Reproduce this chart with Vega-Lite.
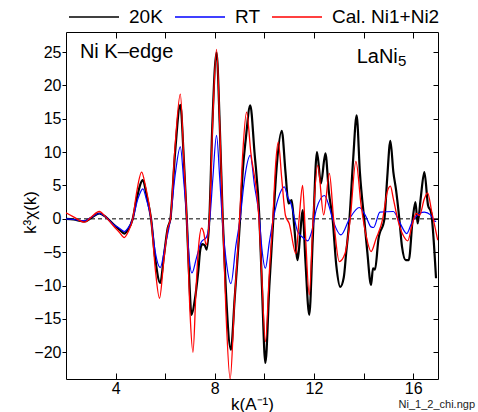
{
"$schema": "https://vega.github.io/schema/vega-lite/v6.json",
"width": 372, "height": 347,
"autosize": "none",
"padding": {"left": 66, "top": 32, "right": 40, "bottom": 33},
"background": "white",
"title": {"text": "Ni_1_2_chi.ngp", "orient": "bottom", "anchor": "end", "fontSize": 11, "fontWeight": "normal", "font": "Liberation Sans", "color": "#222", "dx": 35, "offset": -13},
"config": {"font": "Liberation Sans", "view": {"stroke": "black", "strokeWidth": 1},
  "axis": {"grid": false, "domain": false, "tickColor": "black", "labelColor": "black", "titleColor": "black", "labelFont": "Liberation Sans", "titleFont": "Liberation Sans", "titleFontWeight": "normal"}},
"datasets": {"chi": [
{"s":"20K","k":2.0,"v":0.0},{"s":"20K","k":2.3,"v":-0.1},{"s":"20K","k":2.74,"v":-0.4},{"s":"20K","k":3.0,"v":0.1},{"s":"20K","k":3.34,"v":0.8},{"s":"20K","k":3.6,"v":0.3},{"s":"20K","k":3.9,"v":-0.8},{"s":"20K","k":4.15,"v":-1.6},{"s":"20K","k":4.35,"v":-2.2},{"s":"20K","k":4.5,"v":-1.6},{"s":"20K","k":4.69,"v":0.0},{"s":"20K","k":4.85,"v":3.0},{"s":"20K","k":5.1,"v":5.8},{"s":"20K","k":5.25,"v":3.5},{"s":"20K","k":5.43,"v":0.0},{"s":"20K","k":5.6,"v":-6.0},{"s":"20K","k":5.8,"v":-9.6},{"s":"20K","k":5.95,"v":-5.5},{"s":"20K","k":6.1,"v":-1.4},{"s":"20K","k":6.21,"v":0.0},{"s":"20K","k":6.4,"v":10.0},{"s":"20K","k":6.61,"v":17.1},{"s":"20K","k":6.75,"v":9.0},{"s":"20K","k":6.87,"v":0.0},{"s":"20K","k":6.97,"v":-9.0},{"s":"20K","k":7.06,"v":-14.4},{"s":"20K","k":7.2,"v":-12.0},{"s":"20K","k":7.33,"v":-8.0},{"s":"20K","k":7.42,"v":-4.5},{"s":"20K","k":7.5,"v":-3.8},{"s":"20K","k":7.6,"v":-4.0},{"s":"20K","k":7.67,"v":-4.6},{"s":"20K","k":7.78,"v":0.0},{"s":"20K","k":7.9,"v":14.0},{"s":"20K","k":8.07,"v":24.9},{"s":"20K","k":8.2,"v":14.0},{"s":"20K","k":8.32,"v":0.0},{"s":"20K","k":8.45,"v":-11.0},{"s":"20K","k":8.65,"v":-19.6},{"s":"20K","k":8.8,"v":-12.0},{"s":"20K","k":9.02,"v":0.0},{"s":"20K","k":9.13,"v":7.3},{"s":"20K","k":9.25,"v":12.0},{"s":"20K","k":9.43,"v":17.0},{"s":"20K","k":9.6,"v":10.0},{"s":"20K","k":9.8,"v":0.0},{"s":"20K","k":9.9,"v":-10.0},{"s":"20K","k":10.04,"v":-21.6},{"s":"20K","k":10.2,"v":-10.0},{"s":"20K","k":10.36,"v":0.0},{"s":"20K","k":10.5,"v":8.0},{"s":"20K","k":10.7,"v":13.2},{"s":"20K","k":10.85,"v":7.0},{"s":"20K","k":10.97,"v":2.3},{"s":"20K","k":11.1,"v":2.8},{"s":"20K","k":11.2,"v":-1.0},{"s":"20K","k":11.34,"v":-6.2},{"s":"20K","k":11.45,"v":-2.0},{"s":"20K","k":11.54,"v":1.3},{"s":"20K","k":11.65,"v":-6.0},{"s":"20K","k":11.81,"v":-14.4},{"s":"20K","k":11.95,"v":-3.0},{"s":"20K","k":12.12,"v":10.0},{"s":"20K","k":12.28,"v":5.3},{"s":"20K","k":12.46,"v":9.8},{"s":"20K","k":12.6,"v":4.0},{"s":"20K","k":12.75,"v":0.0},{"s":"20K","k":12.9,"v":-7.0},{"s":"20K","k":13.06,"v":-10.2},{"s":"20K","k":13.2,"v":-8.8},{"s":"20K","k":13.3,"v":-5.0},{"s":"20K","k":13.43,"v":0.0},{"s":"20K","k":13.58,"v":9.0},{"s":"20K","k":13.72,"v":15.5},{"s":"20K","k":13.85,"v":7.0},{"s":"20K","k":14.05,"v":-1.0},{"s":"20K","k":14.15,"v":-5.0},{"s":"20K","k":14.3,"v":-9.9},{"s":"20K","k":14.38,"v":-7.4},{"s":"20K","k":14.46,"v":-7.6},{"s":"20K","k":14.6,"v":-3.0},{"s":"20K","k":14.84,"v":0.0},{"s":"20K","k":14.95,"v":6.0},{"s":"20K","k":15.08,"v":11.7},{"s":"20K","k":15.2,"v":7.0},{"s":"20K","k":15.31,"v":4.3},{"s":"20K","k":15.44,"v":0.0},{"s":"20K","k":15.55,"v":-4.2},{"s":"20K","k":15.7,"v":-6.2},{"s":"20K","k":15.82,"v":-6.2},{"s":"20K","k":15.98,"v":0.0},{"s":"20K","k":16.09,"v":2.5},{"s":"20K","k":16.18,"v":-0.7},{"s":"20K","k":16.3,"v":3.0},{"s":"20K","k":16.45,"v":7.0},{"s":"20K","k":16.6,"v":2.0},{"s":"20K","k":16.72,"v":1.0},{"s":"20K","k":16.92,"v":-8.9},
{"s":"RT","k":2.0,"v":0.0},{"s":"RT","k":2.3,"v":-0.1},{"s":"RT","k":2.74,"v":-0.3},{"s":"RT","k":3.0,"v":0.2},{"s":"RT","k":3.34,"v":0.8},{"s":"RT","k":3.6,"v":0.3},{"s":"RT","k":3.9,"v":-0.8},{"s":"RT","k":4.15,"v":-1.4},{"s":"RT","k":4.35,"v":-1.9},{"s":"RT","k":4.5,"v":-1.4},{"s":"RT","k":4.69,"v":0.0},{"s":"RT","k":4.9,"v":3.0},{"s":"RT","k":5.1,"v":4.5},{"s":"RT","k":5.25,"v":2.8},{"s":"RT","k":5.43,"v":0.0},{"s":"RT","k":5.6,"v":-5.0},{"s":"RT","k":5.8,"v":-7.3},{"s":"RT","k":6.0,"v":-4.0},{"s":"RT","k":6.21,"v":0.0},{"s":"RT","k":6.4,"v":6.5},{"s":"RT","k":6.61,"v":10.8},{"s":"RT","k":6.75,"v":5.5},{"s":"RT","k":6.87,"v":0.0},{"s":"RT","k":6.95,"v":-5.0},{"s":"RT","k":7.08,"v":-8.1},{"s":"RT","k":7.25,"v":-6.0},{"s":"RT","k":7.45,"v":-3.5},{"s":"RT","k":7.67,"v":-2.7},{"s":"RT","k":7.8,"v":0.0},{"s":"RT","k":7.92,"v":6.0},{"s":"RT","k":8.07,"v":12.5},{"s":"RT","k":8.2,"v":6.0},{"s":"RT","k":8.3,"v":0.0},{"s":"RT","k":8.45,"v":-6.0},{"s":"RT","k":8.65,"v":-9.7},{"s":"RT","k":8.85,"v":-4.0},{"s":"RT","k":9.02,"v":0.0},{"s":"RT","k":9.2,"v":6.0},{"s":"RT","k":9.43,"v":9.5},{"s":"RT","k":9.6,"v":5.0},{"s":"RT","k":9.8,"v":0.0},{"s":"RT","k":9.9,"v":-4.5},{"s":"RT","k":10.04,"v":-7.4},{"s":"RT","k":10.2,"v":-3.5},{"s":"RT","k":10.36,"v":0.0},{"s":"RT","k":10.55,"v":3.0},{"s":"RT","k":10.8,"v":4.8},{"s":"RT","k":10.95,"v":3.2},{"s":"RT","k":11.07,"v":2.3},{"s":"RT","k":11.34,"v":-1.9},{"s":"RT","k":11.55,"v":-2.8},{"s":"RT","k":11.75,"v":-3.3},{"s":"RT","k":11.9,"v":-2.0},{"s":"RT","k":12.1,"v":1.5},{"s":"RT","k":12.42,"v":3.5},{"s":"RT","k":12.6,"v":2.0},{"s":"RT","k":12.75,"v":0.0},{"s":"RT","k":13.09,"v":-2.4},{"s":"RT","k":13.43,"v":0.0},{"s":"RT","k":13.83,"v":1.7},{"s":"RT","k":14.1,"v":0.3},{"s":"RT","k":14.3,"v":-1.2},{"s":"RT","k":14.4,"v":-1.3},{"s":"RT","k":14.66,"v":1.0},{"s":"RT","k":15.2,"v":1.1},{"s":"RT","k":15.45,"v":-0.5},{"s":"RT","k":15.74,"v":-2.2},{"s":"RT","k":15.95,"v":-0.5},{"s":"RT","k":16.1,"v":0.3},{"s":"RT","k":16.45,"v":1.0},{"s":"RT","k":16.7,"v":0.6},{"s":"RT","k":16.88,"v":-0.4},{"s":"RT","k":16.92,"v":-0.3},
{"s":"Cal. Ni1+Ni2","k":2.0,"v":0.9},{"s":"Cal. Ni1+Ni2","k":2.3,"v":0.3},{"s":"Cal. Ni1+Ni2","k":2.74,"v":-0.5},{"s":"Cal. Ni1+Ni2","k":3.0,"v":0.2},{"s":"Cal. Ni1+Ni2","k":3.34,"v":1.1},{"s":"Cal. Ni1+Ni2","k":3.6,"v":0.3},{"s":"Cal. Ni1+Ni2","k":3.9,"v":-1.0},{"s":"Cal. Ni1+Ni2","k":4.15,"v":-2.0},{"s":"Cal. Ni1+Ni2","k":4.35,"v":-2.8},{"s":"Cal. Ni1+Ni2","k":4.5,"v":-2.0},{"s":"Cal. Ni1+Ni2","k":4.69,"v":0.0},{"s":"Cal. Ni1+Ni2","k":4.85,"v":4.0},{"s":"Cal. Ni1+Ni2","k":5.05,"v":7.0},{"s":"Cal. Ni1+Ni2","k":5.2,"v":5.0},{"s":"Cal. Ni1+Ni2","k":5.43,"v":0.0},{"s":"Cal. Ni1+Ni2","k":5.6,"v":-7.5},{"s":"Cal. Ni1+Ni2","k":5.77,"v":-11.9},{"s":"Cal. Ni1+Ni2","k":5.95,"v":-6.0},{"s":"Cal. Ni1+Ni2","k":6.1,"v":-1.5},{"s":"Cal. Ni1+Ni2","k":6.21,"v":0.0},{"s":"Cal. Ni1+Ni2","k":6.4,"v":11.0},{"s":"Cal. Ni1+Ni2","k":6.61,"v":18.7},{"s":"Cal. Ni1+Ni2","k":6.75,"v":9.0},{"s":"Cal. Ni1+Ni2","k":6.87,"v":0.0},{"s":"Cal. Ni1+Ni2","k":7.0,"v":-14.0},{"s":"Cal. Ni1+Ni2","k":7.12,"v":-20.0},{"s":"Cal. Ni1+Ni2","k":7.25,"v":-10.0},{"s":"Cal. Ni1+Ni2","k":7.35,"v":-4.0},{"s":"Cal. Ni1+Ni2","k":7.47,"v":-1.4},{"s":"Cal. Ni1+Ni2","k":7.55,"v":-2.0},{"s":"Cal. Ni1+Ni2","k":7.65,"v":-3.9},{"s":"Cal. Ni1+Ni2","k":7.78,"v":0.0},{"s":"Cal. Ni1+Ni2","k":7.92,"v":15.0},{"s":"Cal. Ni1+Ni2","k":8.07,"v":25.4},{"s":"Cal. Ni1+Ni2","k":8.2,"v":14.0},{"s":"Cal. Ni1+Ni2","k":8.32,"v":0.0},{"s":"Cal. Ni1+Ni2","k":8.45,"v":-14.0},{"s":"Cal. Ni1+Ni2","k":8.62,"v":-24.0},{"s":"Cal. Ni1+Ni2","k":8.8,"v":-12.0},{"s":"Cal. Ni1+Ni2","k":9.0,"v":0.0},{"s":"Cal. Ni1+Ni2","k":9.13,"v":10.0},{"s":"Cal. Ni1+Ni2","k":9.28,"v":16.0},{"s":"Cal. Ni1+Ni2","k":9.45,"v":10.0},{"s":"Cal. Ni1+Ni2","k":9.78,"v":0.0},{"s":"Cal. Ni1+Ni2","k":9.9,"v":-9.0},{"s":"Cal. Ni1+Ni2","k":10.04,"v":-18.4},{"s":"Cal. Ni1+Ni2","k":10.2,"v":-8.0},{"s":"Cal. Ni1+Ni2","k":10.34,"v":0.0},{"s":"Cal. Ni1+Ni2","k":10.45,"v":8.0},{"s":"Cal. Ni1+Ni2","k":10.56,"v":11.5},{"s":"Cal. Ni1+Ni2","k":10.7,"v":6.0},{"s":"Cal. Ni1+Ni2","k":10.85,"v":0.5},{"s":"Cal. Ni1+Ni2","k":11.0,"v":-0.7},{"s":"Cal. Ni1+Ni2","k":11.27,"v":-5.2},{"s":"Cal. Ni1+Ni2","k":11.4,"v":0.0},{"s":"Cal. Ni1+Ni2","k":11.54,"v":5.0},{"s":"Cal. Ni1+Ni2","k":11.65,"v":-2.0},{"s":"Cal. Ni1+Ni2","k":11.81,"v":-11.4},{"s":"Cal. Ni1+Ni2","k":11.95,"v":-1.0},{"s":"Cal. Ni1+Ni2","k":12.15,"v":8.0},{"s":"Cal. Ni1+Ni2","k":12.39,"v":0.6},{"s":"Cal. Ni1+Ni2","k":12.62,"v":6.8},{"s":"Cal. Ni1+Ni2","k":12.79,"v":0.0},{"s":"Cal. Ni1+Ni2","k":13.02,"v":-6.4},{"s":"Cal. Ni1+Ni2","k":13.25,"v":-5.2},{"s":"Cal. Ni1+Ni2","k":13.46,"v":0.0},{"s":"Cal. Ni1+Ni2","k":13.69,"v":8.6},{"s":"Cal. Ni1+Ni2","k":13.9,"v":2.0},{"s":"Cal. Ni1+Ni2","k":14.1,"v":-2.5},{"s":"Cal. Ni1+Ni2","k":14.3,"v":-4.9},{"s":"Cal. Ni1+Ni2","k":14.5,"v":-3.0},{"s":"Cal. Ni1+Ni2","k":14.77,"v":0.0},{"s":"Cal. Ni1+Ni2","k":14.95,"v":4.0},{"s":"Cal. Ni1+Ni2","k":15.08,"v":4.9},{"s":"Cal. Ni1+Ni2","k":15.2,"v":3.0},{"s":"Cal. Ni1+Ni2","k":15.37,"v":0.0},{"s":"Cal. Ni1+Ni2","k":15.6,"v":-2.5},{"s":"Cal. Ni1+Ni2","k":15.78,"v":-3.3},{"s":"Cal. Ni1+Ni2","k":15.95,"v":-1.0},{"s":"Cal. Ni1+Ni2","k":16.12,"v":0.8},{"s":"Cal. Ni1+Ni2","k":16.25,"v":0.5},{"s":"Cal. Ni1+Ni2","k":16.45,"v":3.0},{"s":"Cal. Ni1+Ni2","k":16.58,"v":3.9},{"s":"Cal. Ni1+Ni2","k":16.75,"v":1.0},{"s":"Cal. Ni1+Ni2","k":16.99,"v":-3.2}
]},
"layer": [
{"data": {"values": [{}]},
 "mark": {"type": "rule", "strokeDash": [4, 3], "color": "black", "strokeWidth": 1},
 "encoding": {"y": {"datum": 0, "type": "quantitative", "axis": null}}},
{"data": {"name": "chi"},
 "transform": [{"filter": "datum.s === '20K'"}],
 "mark": {"type": "line", "interpolate": "monotone", "clip": true, "strokeWidth": 2.2},
 "encoding": {
  "x": {"field": "k", "type": "quantitative", "scale": {"domain": [2, 17], "nice": false, "zero": false},
        "axis": {"orient": "bottom", "values": [4, 6, 8, 10, 12, 14, 16], "tickSize": -6, "labelExpr": "datum.value % 4 === 0 ? datum.label : ''", "labelFontSize": 16, "labelPadding": 7, "title": "k(A⁻¹)", "titleFontSize": 17, "titleY": 30, "titleBaseline": "alphabetic"}},
  "y": {"field": "v", "type": "quantitative", "scale": {"domain": [-24, 28], "nice": false, "zero": false},
        "axis": {"orient": "left", "values": [-20, -15, -10, -5, 0, 5, 10, 15, 20, 25], "tickSize": 4, "labelPadding": 1, "labelFontSize": 16, "title": "k³χ(k)", "titleFontSize": 17, "titleX": -36, "titleY": 180, "titleAngle": -90, "titleBaseline": "middle", "titleAlign": "center"}},
  "color": {"field": "s", "type": "nominal", "scale": {"domain": ["20K", "RT", "Cal. Ni1+Ni2"], "range": ["#000000", "#0000ff", "#ff0000"]},
        "legend": {"orient": "none", "legendX": 2, "legendY": -41, "direction": "horizontal", "title": null, "symbolType": "stroke", "symbolSize": 2500, "symbolStrokeWidth": 1.6, "labelFontSize": 19, "labelOffset": 9, "columnPadding": 8, "labelFont": "Liberation Sans", "labelColor": "black", "padding": 0}}
 }},
{"data": {"name": "chi"},
 "transform": [{"filter": "datum.s === 'RT'"}],
 "mark": {"type": "line", "interpolate": "monotone", "clip": true, "strokeWidth": 1.2},
 "encoding": {
  "x": {"field": "k", "type": "quantitative", "axis": null},
  "y": {"field": "v", "type": "quantitative", "axis": null},
  "color": {"field": "s", "type": "nominal"}
 }},
{"data": {"name": "chi"},
 "transform": [{"filter": "datum.s === 'Cal. Ni1+Ni2'"}],
 "mark": {"type": "line", "interpolate": "monotone", "clip": true, "strokeWidth": 1.3},
 "encoding": {
  "x": {"field": "k", "type": "quantitative", "axis": null},
  "y": {"field": "v", "type": "quantitative", "axis": null},
  "color": {"field": "s", "type": "nominal"}
 }},
{"data": {"values": [{}]},
 "mark": {"type": "text", "align": "left", "baseline": "alphabetic", "fontSize": 20, "font": "Liberation Sans", "color": "black", "text": "Ni K–edge"},
 "encoding": {"x": {"datum": 2.56, "type": "quantitative", "axis": {"orient": "top", "values": [4, 6, 8, 10, 12, 14, 16], "tickSize": -6, "labels": false, "title": null}},
              "y": {"datum": 24.1, "type": "quantitative", "axis": {"orient": "right", "values": [-20, -15, -10, -5, 0, 5, 10, 15, 20, 25], "tickSize": -5, "labels": false, "title": null}}}},
{"data": {"values": [{}]},
 "mark": {"type": "text", "align": "left", "baseline": "alphabetic", "fontSize": 20, "font": "Liberation Sans", "color": "black", "text": "LaNi"},
 "encoding": {"x": {"datum": 13.72, "type": "quantitative", "axis": null}, "y": {"datum": 23.4, "type": "quantitative", "axis": null}}},
{"data": {"values": [{}]},
 "mark": {"type": "text", "align": "left", "baseline": "alphabetic", "fontSize": 15, "font": "Liberation Sans", "color": "black", "text": "5"},
 "encoding": {"x": {"datum": 15.39, "type": "quantitative", "axis": null}, "y": {"datum": 22.9, "type": "quantitative", "axis": null}}}
]
}
